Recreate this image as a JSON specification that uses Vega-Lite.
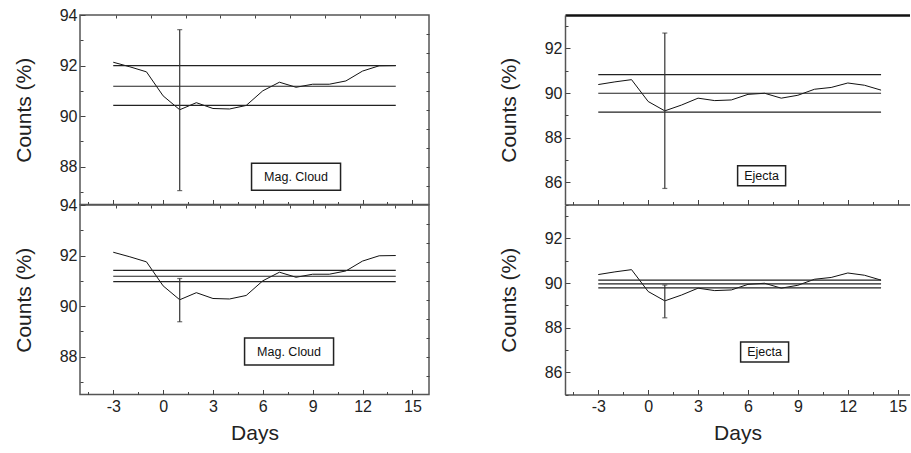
{
  "$schema": "https://vega.github.io/schema/vega-lite/v6.json",
  "padding": {"left": 12, "top": 6, "right": 0, "bottom": 4},
  "background": "white",
  "config": {
    "font": "Liberation Sans",
    "axis": {"labelFont": "Liberation Sans", "labelFontSize": 16, "labelColor": "#222", "titleFont": "Liberation Sans", "titleFontSize": 21, "titleFontWeight": "normal", "titleColor": "#222", "tickColor": "#444", "tickWidth": 1, "domainColor": "#555", "grid": false},
    "view": {"stroke": "#555", "strokeWidth": 1.5}
  },
  "datasets": {
    "series": [
      {"group": "Mag. Cloud", "day": -3, "counts": 92.13}, {"group": "Mag. Cloud", "day": -2, "counts": 91.95}, {"group": "Mag. Cloud", "day": -1, "counts": 91.75}, {"group": "Mag. Cloud", "day": 0, "counts": 90.8}, {"group": "Mag. Cloud", "day": 1, "counts": 90.25}, {"group": "Mag. Cloud", "day": 2, "counts": 90.53}, {"group": "Mag. Cloud", "day": 3, "counts": 90.3}, {"group": "Mag. Cloud", "day": 4, "counts": 90.28}, {"group": "Mag. Cloud", "day": 5, "counts": 90.42}, {"group": "Mag. Cloud", "day": 6, "counts": 91.0}, {"group": "Mag. Cloud", "day": 7, "counts": 91.34}, {"group": "Mag. Cloud", "day": 8, "counts": 91.14}, {"group": "Mag. Cloud", "day": 9, "counts": 91.26}, {"group": "Mag. Cloud", "day": 10, "counts": 91.26}, {"group": "Mag. Cloud", "day": 11, "counts": 91.39}, {"group": "Mag. Cloud", "day": 12, "counts": 91.78}, {"group": "Mag. Cloud", "day": 13, "counts": 91.99}, {"group": "Mag. Cloud", "day": 14, "counts": 92.0},
      {"group": "Ejecta", "day": -3, "counts": 90.38}, {"group": "Ejecta", "day": -2, "counts": 90.5}, {"group": "Ejecta", "day": -1, "counts": 90.6}, {"group": "Ejecta", "day": 0, "counts": 89.62}, {"group": "Ejecta", "day": 1, "counts": 89.2}, {"group": "Ejecta", "day": 2, "counts": 89.46}, {"group": "Ejecta", "day": 3, "counts": 89.77}, {"group": "Ejecta", "day": 4, "counts": 89.66}, {"group": "Ejecta", "day": 5, "counts": 89.69}, {"group": "Ejecta", "day": 6, "counts": 89.94}, {"group": "Ejecta", "day": 7, "counts": 89.99}, {"group": "Ejecta", "day": 8, "counts": 89.77}, {"group": "Ejecta", "day": 9, "counts": 89.9}, {"group": "Ejecta", "day": 10, "counts": 90.17}, {"group": "Ejecta", "day": 11, "counts": 90.25}, {"group": "Ejecta", "day": 12, "counts": 90.45}, {"group": "Ejecta", "day": 13, "counts": 90.35}, {"group": "Ejecta", "day": 14, "counts": 90.13}
    ],
    "levels": [
      {"panel": "TL", "level": 92.0, "from": -3, "to": 14}, {"panel": "TL", "level": 91.18, "from": -3, "to": 14}, {"panel": "TL", "level": 90.42, "from": -3, "to": 14},
      {"panel": "BL", "level": 91.41, "from": -3, "to": 14}, {"panel": "BL", "level": 91.18, "from": -3, "to": 14}, {"panel": "BL", "level": 90.97, "from": -3, "to": 14},
      {"panel": "TR", "level": 90.83, "from": -3, "to": 14}, {"panel": "TR", "level": 89.99, "from": -3, "to": 14}, {"panel": "TR", "level": 89.14, "from": -3, "to": 14},
      {"panel": "BR", "level": 90.13, "from": -3, "to": 14}, {"panel": "BR", "level": 89.96, "from": -3, "to": 14}, {"panel": "BR", "level": 89.78, "from": -3, "to": 14}
    ],
    "errors": [
      {"panel": "TL", "day": 1, "low": 87.05, "high": 93.42},
      {"panel": "BL", "day": 1, "low": 89.38, "high": 91.09},
      {"panel": "TR", "day": 1, "low": 85.72, "high": 92.69},
      {"panel": "BR", "day": 1, "low": 88.44, "high": 89.91}
    ],
    "labels": [
      {"panel": "TL", "day": 8.0, "counts": 87.6, "text": "Mag. Cloud"},
      {"panel": "BL", "day": 7.58, "counts": 88.2, "text": "Mag. Cloud"},
      {"panel": "TR", "day": 6.82, "counts": 86.29, "text": "Ejecta"},
      {"panel": "BR", "day": 7.0, "counts": 86.91, "text": "Ejecta"}
    ]
  },
  "columns": 2,
  "spacing": {"row": 0, "column": 136},
  "bounds": "flush",
  "concat": [
    {
      "width": 349, "height": 189.5,
      "resolve": {"axis": {"x": "independent", "y": "independent"}},
      "layer": [
        {"data": {"name": "series"}, "transform": [{"filter": "datum.group === 'Mag. Cloud'"}],
         "mark": {"type": "line", "color": "#111", "strokeWidth": 1},
         "encoding": {
           "x": {"field": "day", "type": "quantitative", "scale": {"domain": [-5, 16], "nice": false, "zero": false}, "axis": {"orient": "bottom", "values": [-3, 0, 3, 6, 9, 12, 15], "labels": false, "tickSize": -5, "domain": false, "title": null}},
           "y": {"field": "counts", "type": "quantitative", "scale": {"domain": [86.5, 94], "nice": false, "zero": false}, "axis": {"orient": "left", "values": [88, 90, 92, 94], "tickSize": -5, "labelPadding": 8, "domain": false, "title": "Counts (%)", "titlePadding": 25}}
         }},
        {"data": {"name": "levels"}, "transform": [{"filter": "datum.panel === 'TL'"}],
         "mark": {"type": "rule", "color": "#222", "strokeWidth": 1.2},
         "encoding": {
           "x": {"field": "from", "type": "quantitative", "axis": {"orient": "bottom", "values": [-4.5, -1.5, 1.5, 4.5, 7.5, 10.5, 13.5], "labels": false, "tickSize": -3, "domain": false, "title": null}},
           "x2": {"field": "to"},
           "y": {"field": "level", "type": "quantitative", "axis": {"orient": "left", "values": [87, 89, 91, 93], "labels": false, "tickSize": -3, "domain": false, "title": null}}
         }},
        {"data": {"name": "errors"}, "transform": [{"filter": "datum.panel === 'TL'"}],
         "mark": {"type": "rule", "color": "#333", "strokeWidth": 1.2},
         "encoding": {
           "x": {"field": "day", "type": "quantitative", "axis": {"orient": "top", "values": [-2.85, -0.75, 1.35, 3.45, 5.55, 7.65, 9.75, 11.85, 13.95], "labels": false, "tickSize": -3, "domain": false, "title": null}},
           "y": {"field": "low", "type": "quantitative", "axis": {"orient": "right", "values": [93.25, 92.5, 91.75, 91, 90.25, 89.5, 88.75, 88, 87.25], "labels": false, "tickSize": -3, "domain": false, "title": null}},
           "y2": {"field": "high"}
         }},
        {"data": {"name": "errors"}, "transform": [{"filter": "datum.panel === 'TL'"}],
         "mark": {"type": "tick", "orient": "horizontal", "color": "#333", "size": 5, "thickness": 1.2},
         "encoding": {"x": {"field": "day", "type": "quantitative", "axis": null}, "y": {"field": "low", "type": "quantitative", "axis": null}}},
        {"data": {"name": "errors"}, "transform": [{"filter": "datum.panel === 'TL'"}],
         "mark": {"type": "tick", "orient": "horizontal", "color": "#333", "size": 5, "thickness": 1.2},
         "encoding": {"x": {"field": "day", "type": "quantitative", "axis": null}, "y": {"field": "high", "type": "quantitative", "axis": null}}},
        {"data": {"name": "labels"}, "transform": [{"filter": "datum.panel === 'TL'"}],
         "mark": {"type": "point", "shape": "M-1,-0.3034H1V0.3034H-1Z", "size": 7921, "filled": true, "fill": "white", "stroke": "#222", "strokeWidth": 1.5, "opacity": 1},
         "encoding": {"x": {"field": "day", "type": "quantitative", "axis": null}, "y": {"field": "counts", "type": "quantitative", "axis": null}}},
        {"data": {"name": "labels"}, "transform": [{"filter": "datum.panel === 'TL'"}],
         "mark": {"type": "text", "font": "Liberation Sans", "fontSize": 12.5, "color": "#111", "align": "center", "baseline": "middle"},
         "encoding": {"x": {"field": "day", "type": "quantitative", "axis": null}, "y": {"field": "counts", "type": "quantitative", "axis": null}, "text": {"field": "text"}}}
      ]
    },
    {
      "width": 345, "height": 189.5,
      "view": {"stroke": null},
      "resolve": {"axis": {"x": "independent", "y": "independent"}},
      "layer": [
        {"data": {"name": "series"}, "transform": [{"filter": "datum.group === 'Ejecta'"}],
         "mark": {"type": "line", "color": "#111", "strokeWidth": 1},
         "encoding": {
           "x": {"field": "day", "type": "quantitative", "scale": {"domain": [-5, 15.74], "nice": false, "zero": false}, "axis": {"orient": "bottom", "values": [-3, 0, 3, 6, 9, 12, 15], "labels": false, "tickSize": -5, "domain": true, "domainColor": "#444", "domainWidth": 1.5, "title": null}},
           "y": {"field": "counts", "type": "quantitative", "scale": {"domain": [85, 93.5], "nice": false, "zero": false}, "axis": {"orient": "left", "values": [86, 88, 90, 92], "tickSize": -5, "labelPadding": 8, "domain": true, "domainWidth": 1.5, "title": "Counts (%)", "titlePadding": 25}}
         }},
        {"data": {"name": "levels"}, "transform": [{"filter": "datum.panel === 'TR'"}],
         "mark": {"type": "rule", "color": "#222", "strokeWidth": 1.2},
         "encoding": {
           "x": {"field": "from", "type": "quantitative", "axis": {"orient": "bottom", "values": [-4.5, -1.5, 1.5, 4.5, 7.5, 10.5, 13.5], "labels": false, "tickSize": -3, "domain": false, "title": null}},
           "x2": {"field": "to"},
           "y": {"field": "level", "type": "quantitative", "axis": {"orient": "left", "values": [85, 87, 89, 91, 93], "labels": false, "tickSize": -3, "domain": false, "title": null}}
         }},
        {"data": {"name": "errors"}, "transform": [{"filter": "datum.panel === 'TR'"}],
         "mark": {"type": "rule", "color": "#333", "strokeWidth": 1.2},
         "encoding": {
           "x": {"field": "day", "type": "quantitative", "axis": {"orient": "top", "ticks": false, "labels": false, "domain": true, "domainColor": "#111", "domainWidth": 2.5, "title": null}},
           "y": {"field": "low", "type": "quantitative", "axis": null},
           "y2": {"field": "high"}
         }},
        {"data": {"name": "errors"}, "transform": [{"filter": "datum.panel === 'TR'"}],
         "mark": {"type": "tick", "orient": "horizontal", "color": "#333", "size": 5, "thickness": 1.2},
         "encoding": {"x": {"field": "day", "type": "quantitative", "axis": null}, "y": {"field": "low", "type": "quantitative", "axis": null}}},
        {"data": {"name": "errors"}, "transform": [{"filter": "datum.panel === 'TR'"}],
         "mark": {"type": "tick", "orient": "horizontal", "color": "#333", "size": 5, "thickness": 1.2},
         "encoding": {"x": {"field": "day", "type": "quantitative", "axis": null}, "y": {"field": "high", "type": "quantitative", "axis": null}}},
        {"data": {"name": "labels"}, "transform": [{"filter": "datum.panel === 'TR'"}],
         "mark": {"type": "point", "shape": "M-1,-0.4167H1V0.4167H-1Z", "size": 2304, "filled": true, "fill": "white", "stroke": "#222", "strokeWidth": 1.5, "opacity": 1},
         "encoding": {"x": {"field": "day", "type": "quantitative", "axis": null}, "y": {"field": "counts", "type": "quantitative", "axis": null}}},
        {"data": {"name": "labels"}, "transform": [{"filter": "datum.panel === 'TR'"}],
         "mark": {"type": "text", "font": "Liberation Sans", "fontSize": 12.5, "color": "#111", "align": "center", "baseline": "middle"},
         "encoding": {"x": {"field": "day", "type": "quantitative", "axis": null}, "y": {"field": "counts", "type": "quantitative", "axis": null}, "text": {"field": "text"}}}
      ]
    },
    {
      "width": 349, "height": 189.5,
      "resolve": {"axis": {"x": "independent", "y": "independent"}},
      "layer": [
        {"data": {"name": "series"}, "transform": [{"filter": "datum.group === 'Mag. Cloud'"}],
         "mark": {"type": "line", "color": "#111", "strokeWidth": 1},
         "encoding": {
           "x": {"field": "day", "type": "quantitative", "scale": {"domain": [-5, 16], "nice": false, "zero": false}, "axis": {"orient": "bottom", "values": [-3, 0, 3, 6, 9, 12, 15], "labelExpr": "'' + datum.value", "tickSize": -5, "labelPadding": 9, "domain": false, "title": "Days", "titlePadding": 8}},
           "y": {"field": "counts", "type": "quantitative", "scale": {"domain": [86.5, 94], "nice": false, "zero": false}, "axis": {"orient": "left", "values": [88, 90, 92, 94], "tickSize": -5, "labelPadding": 8, "domain": false, "title": "Counts (%)", "titlePadding": 25}}
         }},
        {"data": {"name": "levels"}, "transform": [{"filter": "datum.panel === 'BL'"}],
         "mark": {"type": "rule", "color": "#222", "strokeWidth": 1.2},
         "encoding": {
           "x": {"field": "from", "type": "quantitative", "axis": {"orient": "bottom", "values": [-4.5, -1.5, 1.5, 4.5, 7.5, 10.5, 13.5], "labels": false, "tickSize": -3, "domain": false, "title": null}},
           "x2": {"field": "to"},
           "y": {"field": "level", "type": "quantitative", "axis": {"orient": "left", "values": [87, 89, 91, 93], "labels": false, "tickSize": -3, "domain": false, "title": null}}
         }},
        {"data": {"name": "errors"}, "transform": [{"filter": "datum.panel === 'BL'"}],
         "mark": {"type": "rule", "color": "#333", "strokeWidth": 1.2},
         "encoding": {
           "x": {"field": "day", "type": "quantitative", "axis": {"orient": "top", "values": [-2.85, -0.75, 1.35, 3.45, 5.55, 7.65, 9.75, 11.85, 13.95], "labels": false, "tickSize": -3, "domain": false, "title": null}},
           "y": {"field": "low", "type": "quantitative", "axis": {"orient": "right", "values": [93.25, 92.5, 91.75, 91, 90.25, 89.5, 88.75, 88, 87.25], "labels": false, "tickSize": -3, "domain": false, "title": null}},
           "y2": {"field": "high"}
         }},
        {"data": {"name": "errors"}, "transform": [{"filter": "datum.panel === 'BL'"}],
         "mark": {"type": "tick", "orient": "horizontal", "color": "#333", "size": 5, "thickness": 1.2},
         "encoding": {"x": {"field": "day", "type": "quantitative", "axis": null}, "y": {"field": "low", "type": "quantitative", "axis": null}}},
        {"data": {"name": "errors"}, "transform": [{"filter": "datum.panel === 'BL'"}],
         "mark": {"type": "tick", "orient": "horizontal", "color": "#333", "size": 5, "thickness": 1.2},
         "encoding": {"x": {"field": "day", "type": "quantitative", "axis": null}, "y": {"field": "high", "type": "quantitative", "axis": null}}},
        {"data": {"name": "labels"}, "transform": [{"filter": "datum.panel === 'BL'"}],
         "mark": {"type": "point", "shape": "M-1,-0.3034H1V0.3034H-1Z", "size": 7921, "filled": true, "fill": "white", "stroke": "#222", "strokeWidth": 1.5, "opacity": 1},
         "encoding": {"x": {"field": "day", "type": "quantitative", "axis": null}, "y": {"field": "counts", "type": "quantitative", "axis": null}}},
        {"data": {"name": "labels"}, "transform": [{"filter": "datum.panel === 'BL'"}],
         "mark": {"type": "text", "font": "Liberation Sans", "fontSize": 12.5, "color": "#111", "align": "center", "baseline": "middle"},
         "encoding": {"x": {"field": "day", "type": "quantitative", "axis": null}, "y": {"field": "counts", "type": "quantitative", "axis": null}, "text": {"field": "text"}}}
      ]
    },
    {
      "width": 345, "height": 189.5,
      "view": {"stroke": null},
      "resolve": {"axis": {"x": "independent", "y": "independent"}},
      "layer": [
        {"data": {"name": "series"}, "transform": [{"filter": "datum.group === 'Ejecta'"}],
         "mark": {"type": "line", "color": "#111", "strokeWidth": 1},
         "encoding": {
           "x": {"field": "day", "type": "quantitative", "scale": {"domain": [-5, 15.74], "nice": false, "zero": false}, "axis": {"orient": "bottom", "values": [-3, 0, 3, 6, 9, 12, 15], "labelExpr": "'' + datum.value", "tickSize": -5, "labelPadding": 9, "domain": true, "domainWidth": 1.5, "title": "Days", "titlePadding": 8}},
           "y": {"field": "counts", "type": "quantitative", "scale": {"domain": [85, 93.5], "nice": false, "zero": false}, "axis": {"orient": "left", "values": [86, 88, 90, 92], "tickSize": -5, "labelPadding": 8, "domain": true, "domainWidth": 1.5, "title": "Counts (%)", "titlePadding": 25}}
         }},
        {"data": {"name": "levels"}, "transform": [{"filter": "datum.panel === 'BR'"}],
         "mark": {"type": "rule", "color": "#222", "strokeWidth": 1.2},
         "encoding": {
           "x": {"field": "from", "type": "quantitative", "axis": {"orient": "bottom", "values": [-4.5, -1.5, 1.5, 4.5, 7.5, 10.5, 13.5], "labels": false, "tickSize": -3, "domain": false, "title": null}},
           "x2": {"field": "to"},
           "y": {"field": "level", "type": "quantitative", "axis": {"orient": "left", "values": [85, 87, 89, 91, 93], "labels": false, "tickSize": -3, "domain": false, "title": null}}
         }},
        {"data": {"name": "errors"}, "transform": [{"filter": "datum.panel === 'BR'"}],
         "mark": {"type": "rule", "color": "#333", "strokeWidth": 1.2},
         "encoding": {
           "x": {"field": "day", "type": "quantitative", "axis": null},
           "y": {"field": "low", "type": "quantitative", "axis": null},
           "y2": {"field": "high"}
         }},
        {"data": {"name": "errors"}, "transform": [{"filter": "datum.panel === 'BR'"}],
         "mark": {"type": "tick", "orient": "horizontal", "color": "#333", "size": 5, "thickness": 1.2},
         "encoding": {"x": {"field": "day", "type": "quantitative", "axis": null}, "y": {"field": "low", "type": "quantitative", "axis": null}}},
        {"data": {"name": "errors"}, "transform": [{"filter": "datum.panel === 'BR'"}],
         "mark": {"type": "tick", "orient": "horizontal", "color": "#333", "size": 5, "thickness": 1.2},
         "encoding": {"x": {"field": "day", "type": "quantitative", "axis": null}, "y": {"field": "high", "type": "quantitative", "axis": null}}},
        {"data": {"name": "labels"}, "transform": [{"filter": "datum.panel === 'BR'"}],
         "mark": {"type": "point", "shape": "M-1,-0.4167H1V0.4167H-1Z", "size": 2304, "filled": true, "fill": "white", "stroke": "#222", "strokeWidth": 1.5, "opacity": 1},
         "encoding": {"x": {"field": "day", "type": "quantitative", "axis": null}, "y": {"field": "counts", "type": "quantitative", "axis": null}}},
        {"data": {"name": "labels"}, "transform": [{"filter": "datum.panel === 'BR'"}],
         "mark": {"type": "text", "font": "Liberation Sans", "fontSize": 12.5, "color": "#111", "align": "center", "baseline": "middle"},
         "encoding": {"x": {"field": "day", "type": "quantitative", "axis": null}, "y": {"field": "counts", "type": "quantitative", "axis": null}, "text": {"field": "text"}}}
      ]
    }
  ]
}
